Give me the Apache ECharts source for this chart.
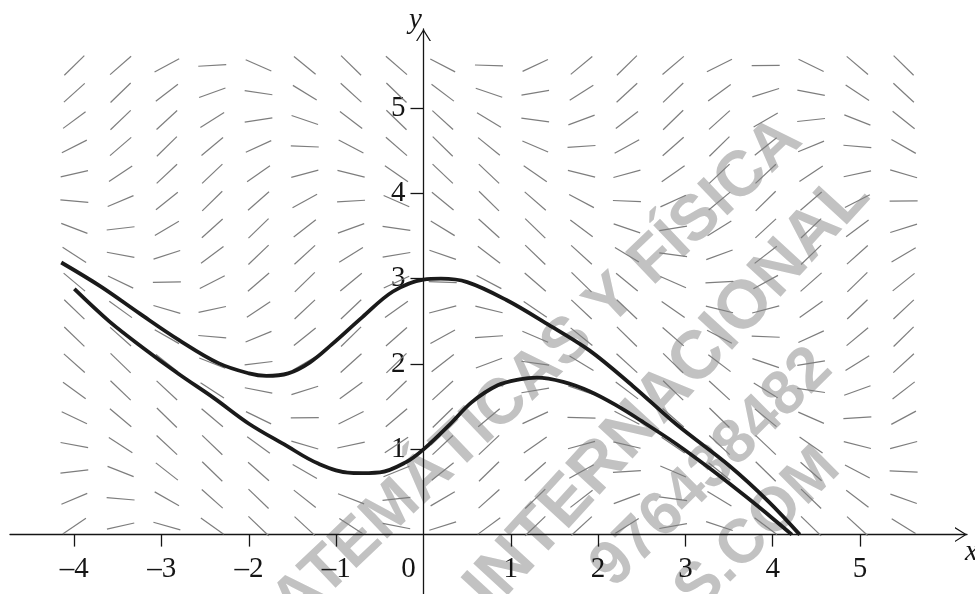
<!DOCTYPE html>
<html>
<head>
<meta charset="utf-8">
<script src="https://cdn.jsdelivr.net/npm/echarts@6/dist/echarts.min.js"></script>
<style>
  html, body { margin: 0; padding: 0; background: #fff; }
  #chart { width: 975px; height: 594px; }
</style>
</head>
<body>
<div id="chart"></div>
<script>
// slope field grid
const fieldX = [-4, -3.47, -2.94, -2.42, -1.89, -1.36, -0.83, -0.31, 0.22, 0.75, 1.28, 1.81, 2.33, 2.86, 3.39, 3.92, 4.44, 4.97, 5.5];
const fieldY = [5.5, 5.18, 4.86, 4.55, 4.23, 3.91, 3.59, 3.28, 2.96, 2.64, 2.32, 2.01, 1.69, 1.37, 1.05, 0.74, 0.42, 0.1];
// slope of each little segment, one row per fieldY value
const slopeRows = [
  [1.00, 0.90, 0.55, 0.06, -0.45, -0.84, -1.00, -0.89, -0.53, -0.03, 0.48, 0.85, 1.00, 0.87, 0.51, 0.01, -0.50, -0.87, -1.00],
  [0.92, 0.99, 0.79, 0.37, -0.15, -0.63, -0.93, -0.99, -0.77, -0.35, 0.18, 0.65, 0.94, 0.98, 0.75, 0.32, -0.20, -0.67, -0.95],
  [0.76, 0.98, 0.94, 0.64, 0.16, -0.35, -0.78, -0.99, -0.93, -0.62, -0.14, 0.38, 0.79, 0.99, 0.92, 0.60, 0.11, -0.40, -0.81],
  [0.52, 0.88, 1.00, 0.85, 0.47, -0.04, -0.54, -0.89, -1.00, -0.83, -0.44, 0.07, 0.56, 0.90, 1.00, 0.82, 0.42, -0.09, -0.58],
  [0.23, 0.69, 0.96, 0.97, 0.72, 0.27, -0.25, -0.70, -0.97, -0.97, -0.70, -0.25, 0.28, 0.72, 0.97, 0.96, 0.68, 0.22, -0.30],
  [-0.09, 0.43, 0.82, 1.00, 0.90, 0.56, 0.06, -0.45, -0.84, -1.00, -0.89, -0.54, -0.04, 0.47, 0.85, 1.00, 0.88, 0.52, 0.01],
  [-0.39, 0.12, 0.61, 0.92, 0.99, 0.79, 0.37, -0.15, -0.62, -0.93, -0.99, -0.77, -0.35, 0.17, 0.64, 0.94, 0.98, 0.76, 0.32],
  [-0.66, -0.19, 0.33, 0.76, 0.98, 0.94, 0.64, 0.17, -0.35, -0.78, -0.99, -0.93, -0.62, -0.14, 0.37, 0.79, 0.99, 0.92, 0.60],
  [-0.86, -0.49, 0.02, 0.52, 0.88, 1.00, 0.85, 0.47, -0.04, -0.54, -0.89, -1.00, -0.84, -0.45, 0.06, 0.56, 0.90, 1.00, 0.82],
  [-0.98, -0.74, -0.30, 0.22, 0.68, 0.96, 0.97, 0.72, 0.27, -0.25, -0.70, -0.96, -0.97, -0.71, -0.25, 0.27, 0.72, 0.97, 0.96],
  [-0.99, -0.91, -0.58, -0.09, 0.42, 0.82, 1.00, 0.90, 0.56, 0.07, -0.44, -0.83, -1.00, -0.89, -0.54, -0.04, 0.47, 0.85, 1.00],
  [-0.91, -0.99, -0.81, -0.40, 0.12, 0.60, 0.92, 0.99, 0.79, 0.38, -0.14, -0.62, -0.93, -0.99, -0.78, -0.35, 0.17, 0.64, 0.94],
  [-0.74, -0.98, -0.95, -0.67, -0.20, 0.32, 0.75, 0.98, 0.94, 0.65, 0.17, -0.35, -0.77, -0.99, -0.94, -0.63, -0.15, 0.37, 0.79],
  [-0.49, -0.86, -1.00, -0.87, -0.50, 0.01, 0.51, 0.87, 1.00, 0.85, 0.47, -0.03, -0.53, -0.89, -1.00, -0.84, -0.45, 0.06, 0.55],
  [-0.19, -0.66, -0.95, -0.98, -0.74, -0.30, 0.22, 0.68, 0.96, 0.97, 0.72, 0.28, -0.24, -0.70, -0.96, -0.97, -0.71, -0.26, 0.27],
  [0.12, -0.40, -0.80, -0.99, -0.91, -0.59, -0.10, 0.42, 0.82, 1.00, 0.90, 0.57, 0.07, -0.44, -0.83, -1.00, -0.89, -0.54, -0.05],
  [0.43, -0.09, -0.58, -0.91, -0.99, -0.81, -0.40, 0.11, 0.60, 0.92, 0.99, 0.79, 0.38, -0.14, -0.62, -0.93, -0.99, -0.78, -0.36],
  [0.69, 0.23, -0.29, -0.73, -0.98, -0.95, -0.67, -0.20, 0.32, 0.75, 0.98, 0.94, 0.65, 0.18, -0.34, -0.77, -0.99, -0.94, -0.63]
];

// the two solution curves
const upperX = [-4.15, -3.7, -3.25, -2.8, -2.35, -2.0, -1.8, -1.55, -1.3, -1.05, -0.7, -0.35, 0, 0.2, 0.5, 0.95, 1.4, 1.9, 2.4, 2.9, 3.5, 3.95, 4.31];
const upperY = [3.19, 2.91, 2.59, 2.28, 2.01, 1.89, 1.86, 1.89, 2.02, 2.23, 2.55, 2.85, 2.99, 3.0, 2.96, 2.75, 2.48, 2.16, 1.74, 1.29, 0.81, 0.39, 0.0];
const lowerX = [-4.0, -3.6, -3.2, -2.8, -2.4, -2.0, -1.6, -1.2, -0.8, -0.5, -0.2, 0, 0.3, 0.55, 0.85, 1.1, 1.3, 1.6, 1.9, 2.2, 2.5, 2.9, 3.3, 3.7, 4.0, 4.22];
const lowerY = [2.88, 2.50, 2.18, 1.88, 1.60, 1.30, 1.06, 0.83, 0.72, 0.73, 0.85, 1.0, 1.29, 1.55, 1.75, 1.82, 1.84, 1.79, 1.68, 1.52, 1.33, 1.06, 0.76, 0.44, 0.19, 0.0];

const xTicks = [-4, -3, -2, -1, 1, 2, 3, 4, 5];
const xLabels = [-4, -3, -2, -1, 0, 1, 2, 3, 4, 5];
const yTicks = [1, 2, 3, 4, 5];

const fieldData = [];
slopeRows.forEach((row, j) => {
  row.forEach((m, i) => fieldData.push([fieldX[i], fieldY[j], m]));
});

const serif = '"Liberation Serif", "Times New Roman", serif';
const ink = '#151515';
// open chevron arrow head
const arrow = 'path://M0,120 L75,0 L150,120 L136,120 L75,22 L14,120 Z';
const wm = size => 'bold ' + size + 'px "Liberation Sans", Arial, sans-serif';
const wmColor = '#c2c2c2';

const chart = echarts.init(document.getElementById('chart'));

const option = {
  animation: false,
  backgroundColor: '#fff',
  grid: { left: 10, right: 8, top: 29, bottom: 0, containLabel: false, outerBoundsMode: 'none' },
  xAxis: {
    type: 'value',
    min: -4.737,
    max: 6.226,
    position: 'bottom',
    offset: -59.4,
    splitLine: { show: false },
    axisLine: {
      onZero: false,
      symbol: ['none', arrow],
      symbolSize: [15, 12],
      symbolOffset: [0, -6],
      lineStyle: { color: ink, width: 1.3 }
    },
    axisTick: { customValues: xTicks, length: 12, lineStyle: { color: ink, width: 1.3 } },
    axisLabel: {
      customValues: xLabels,
      margin: 20,
      color: ink,
      fontFamily: serif,
      fontSize: 29,
      formatter: v => (v === 0 ? '{z|0}' : (v < 0 ? '–' + (-v) : String(v))),
      rich: { z: { fontFamily: serif, fontSize: 29, color: ink, padding: [0, 30, 0, 0] } }
    },
    name: 'x',
    nameLocation: 'end',
    nameGap: -2,
    nameTextStyle: {
      fontFamily: serif, fontStyle: 'italic', fontSize: 29, color: ink,
      align: 'left', verticalAlign: 'top', padding: [3, 0, 0, 0]
    }
  },
  yAxis: {
    type: 'value',
    min: -0.696,
    max: 5.927,
    position: 'left',
    offset: -413.5,
    splitLine: { show: false },
    axisLine: {
      onZero: false,
      symbol: ['none', arrow],
      symbolSize: [15, 12],
      symbolOffset: [0, -6],
      lineStyle: { color: ink, width: 1.3 }
    },
    axisTick: { customValues: yTicks, length: 13, lineStyle: { color: ink, width: 1.3 } },
    axisLabel: {
      customValues: yTicks,
      margin: 18,
      color: ink,
      fontFamily: serif,
      fontSize: 29
    },
    name: 'y',
    nameLocation: 'end',
    nameGap: -6,
    nameTextStyle: {
      fontFamily: serif, fontStyle: 'italic', fontSize: 29, color: ink,
      padding: [0, 16, 0, 0]
    }
  },
  graphic: [
    { type: 'text', x: 518, y: 390, rotation: 0.76, z: 0, silent: true,
      style: { text: 'MATEMÁTICAS Y FÍSICA', fill: wmColor, font: wm(64), align: 'center', verticalAlign: 'middle' } },
    { type: 'text', x: 668, y: 392, rotation: 0.83, z: 0, silent: true,
      style: { text: 'INTERNACIONAL', fill: wmColor, font: wm(68), align: 'center', verticalAlign: 'middle' } },
    { type: 'text', x: 712, y: 468, rotation: 0.78, z: 0, silent: true,
      style: { text: '976438482', fill: wmColor, font: wm(62), align: 'center', verticalAlign: 'middle' } },
    { type: 'text', x: 758, y: 530, rotation: 0.78, z: 0, silent: true,
      style: { text: 'S.COM', fill: wmColor, font: wm(62), align: 'center', verticalAlign: 'middle' } }
  ],
  series: [
    {
      type: 'custom',
      z: 2,
      silent: true,
      data: fieldData,
      renderItem: function (params, api) {
        const c = api.coord([api.value(0), api.value(1)]);
        const unit = api.size([1, 1]);
        const a = Math.atan2(api.value(2) * unit[1], unit[0]);
        const h = 14;
        const dx = Math.cos(a) * h;
        const dy = Math.sin(a) * h;
        return {
          type: 'line',
          shape: { x1: c[0] - dx, y1: c[1] + dy, x2: c[0] + dx, y2: c[1] - dy },
          style: { stroke: '#7d7d7d', lineWidth: 1.2 }
        };
      }
    },
    {
      type: 'line',
      z: 3,
      data: upperX.map((x, i) => [x, upperY[i]]),
      smooth: 0.35,
      showSymbol: false,
      symbol: 'none',
      lineStyle: { color: '#1a1a1a', width: 3.8 }
    },
    {
      type: 'line',
      z: 3,
      data: lowerX.map((x, i) => [x, lowerY[i]]),
      smooth: 0.35,
      showSymbol: false,
      symbol: 'none',
      lineStyle: { color: '#1a1a1a', width: 3.8 }
    }
  ]
};

chart.setOption(option);
</script>
</body>
</html>
